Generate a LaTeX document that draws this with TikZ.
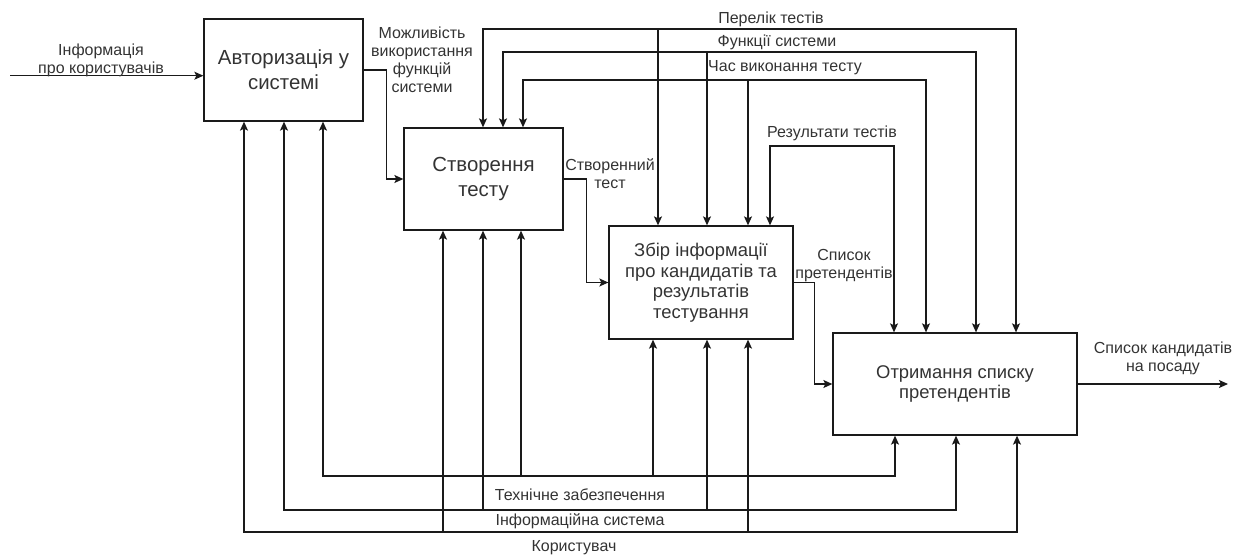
\documentclass[tikz,border=0pt]{standalone}
\usepackage{fontspec}
\setmainfont{Liberation Sans}
\usetikzlibrary{arrows.meta}
\definecolor{txt}{HTML}{333333}
\definecolor{ln}{HTML}{1A1A1A}
\begin{document}
\begin{tikzpicture}[x=1pt,y=-1pt,
  box/.style={draw=ln,line width=1.3pt,inner sep=0pt,align=center,text=txt},
  bigtxt/.style={font=\fontsize{20.4}{25}\selectfont},
  midtxt/.style={font=\fontsize{18.4}{20.5}\selectfont},
  lab/.style={inner sep=0pt,align=center,text=txt,font=\fontsize{16}{18}\selectfont},
  wire/.style={draw=ln,line width=1.2pt},
  arr/.style={wire,-{Stealth[length=9pt,width=8pt,inset=2pt]}},
  arr2/.style={wire,{Stealth[length=9pt,width=8pt,inset=2pt]}-{Stealth[length=9pt,width=8pt,inset=2pt]}}
]
\useasboundingbox (0,0) rectangle (1251,555);
% boxes
\node[box,bigtxt,minimum width=159pt,minimum height=102pt] (A) at (283.5,70) {Авторизація у\\системі};
\node[box,bigtxt,minimum width=159pt,minimum height=102pt] (B) at (483.5,179) {Створення\\тесту};
\node[box,midtxt,minimum width=184pt,minimum height=113pt] (C) at (701,282.5) {Збір інформації\\про кандидатів та\\результатів\\тестування};
\node[box,midtxt,minimum width=244pt,minimum height=102pt] (D) at (955,384) {Отримання списку\\претендентів};
% input
\coordinate (in) at (10,75.7);
\draw[arr] (in) -- (A.west |- in);
\node[lab] (Lin) at (101,60) {Інформація\\про користувачів};
% outputs
\draw[arr] (A.east) -- ++(23,0) |- (B.west);
\node[lab] (LAB) at (422,60) {Можливість\\використання\\функцій\\системи};
\draw[arr] (B.east) -- ++(23,0) |- (C.west);
\node[lab] (LBC) at (610,174) {Створенний\\тест};
\draw[arr] (C.east) -- ++(21,0) |- (D.west);
\node[lab] (LCD) at (844,266) {Список\\претендентів};
\coordinate (out) at (1228,384);
\draw[arr] (D.east) -- (out);
\node[lab] (LD) at (1163,358.5) {Список кандидатів\\на посаду};
% top controls
\coordinate (t1l) at (483,29); \coordinate (t1m) at (658,29); \coordinate (t1r) at (1016,29);
\coordinate (t2l) at (503,52); \coordinate (t2m) at (707,52); \coordinate (t2r) at (976,52);
\coordinate (t3l) at (523,80); \coordinate (t3m) at (748,80); \coordinate (t3r) at (926,80);
\coordinate (t4l) at (770,146); \coordinate (t4r) at (894,146);
\draw[arr2] (B.north -| t1l) -- (t1l) -- (t1r) -- (D.north -| t1r);
\draw[arr] (t1m) -- (C.north -| t1m);
\draw[arr2] (B.north -| t2l) -- (t2l) -- (t2r) -- (D.north -| t2r);
\draw[arr] (t2m) -- (C.north -| t2m);
\draw[arr2] (B.north -| t3l) -- (t3l) -- (t3r) -- (D.north -| t3r);
\draw[arr] (t3m) -- (C.north -| t3m);
\draw[arr2] (C.north -| t4l) -- (t4l) -- (t4r) -- (D.north -| t4r);
\node[lab] (L1) at (771,19) {Перелік тестів};
\node[lab] (L2) at (777,42) {Функції системи};
\node[lab] (L3) at (785,68) {Час виконання тесту};
\node[lab] (L4) at (832,133) {Результати тестів};
% bottom mechanisms
\coordinate (m1a) at (323,476); \coordinate (m1b) at (521,476); \coordinate (m1c) at (653,476); \coordinate (m1d) at (895,476);
\coordinate (m2a) at (284,510); \coordinate (m2b) at (483,510); \coordinate (m2c) at (707,510); \coordinate (m2d) at (956,510);
\coordinate (m3a) at (244,532); \coordinate (m3b) at (443,532); \coordinate (m3c) at (748,532); \coordinate (m3d) at (1017,532);
\draw[arr2] (A.south -| m1a) -- (m1a) -- (m1d) -- (D.south -| m1d);
\draw[arr] (m1b) -- (B.south -| m1b);
\draw[arr] (m1c) -- (C.south -| m1c);
\draw[arr2] (A.south -| m2a) -- (m2a) -- (m2d) -- (D.south -| m2d);
\draw[arr] (m2b) -- (B.south -| m2b);
\draw[arr] (m2c) -- (C.south -| m2c);
\draw[arr2] (A.south -| m3a) -- (m3a) -- (m3d) -- (D.south -| m3d);
\draw[arr] (m3b) -- (B.south -| m3b);
\draw[arr] (m3c) -- (C.south -| m3c);
\node[lab] (M1) at (580,495) {Технічне забезпечення};
\node[lab] (M2) at (580,521) {Інформаційна система};
\node[lab] (M3) at (574,548) {Користувач};
\end{tikzpicture}
\end{document}
